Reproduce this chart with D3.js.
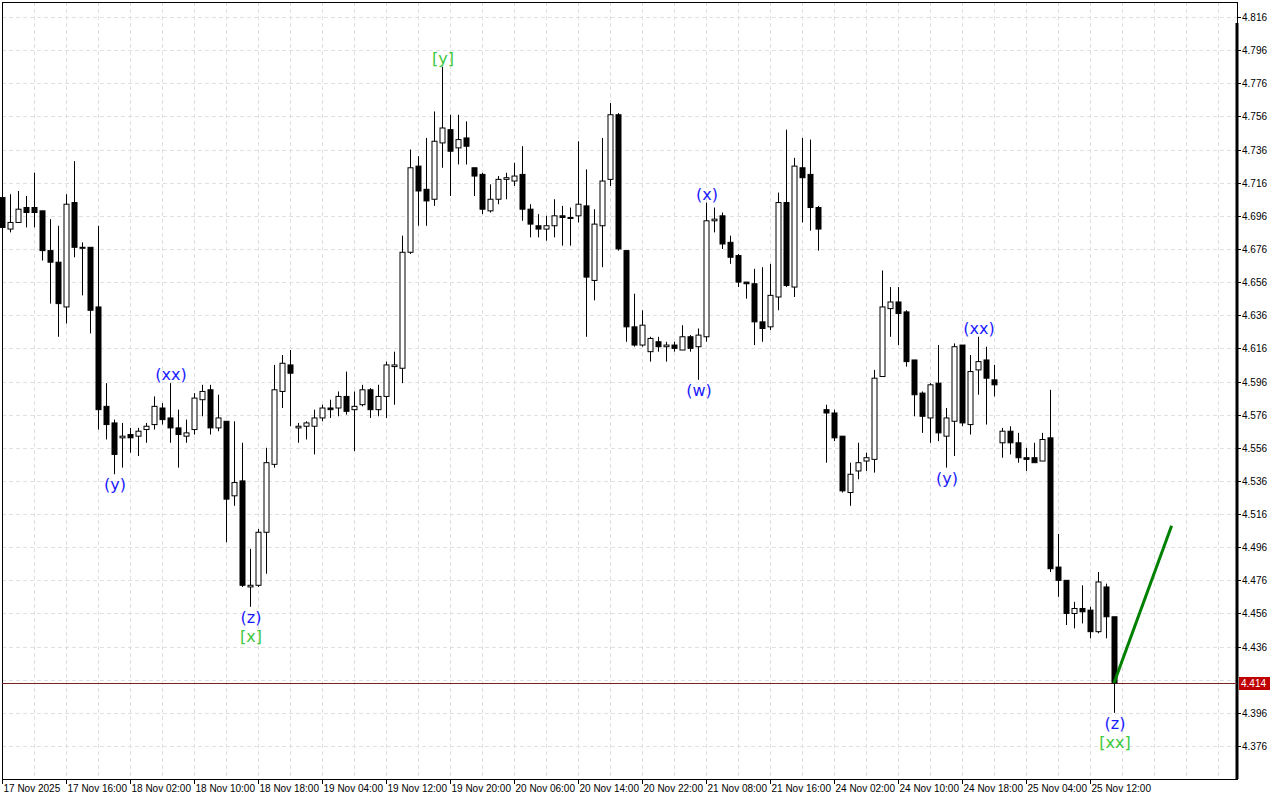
<!DOCTYPE html>
<html><head><meta charset="utf-8">
<script src="https://cdn.jsdelivr.net/npm/d3@7"></script>
<style>html,body{margin:0;padding:0;background:#fff}svg{display:block}</style>
</head><body><svg id="c" width="1280" height="800"></svg>
<script>
const opens  = [4.707,4.688,4.692,4.701,4.701,4.699,4.675,4.668,4.641,4.704,4.677,4.677,4.641,4.581,4.571,4.562,4.564,4.563,4.567,4.570,4.580,4.574,4.568,4.563,4.567,4.585,4.591,4.568,4.572,4.527,4.536,4.472,4.473,4.505,4.546,4.590,4.606,4.568,4.569,4.569,4.574,4.580,4.580,4.587,4.579,4.582,4.591,4.579,4.587,4.605,4.604,4.674,4.726,4.712,4.706,4.740,4.748,4.737,4.743,4.725,4.721,4.699,4.706,4.718,4.717,4.721,4.700,4.690,4.688,4.690,4.696,4.695,4.696,4.702,4.657,4.690,4.718,4.757,4.675,4.629,4.618,4.614,4.620,4.617,4.618,4.615,4.623,4.617,4.623,4.693,4.696,4.680,4.672,4.656,4.655,4.632,4.629,4.647,4.704,4.653,4.725,4.721,4.701,4.579,4.577,4.563,4.529,4.542,4.548,4.549,4.599,4.640,4.644,4.638,4.609,4.589,4.574,4.595,4.563,4.572,4.618,4.570,4.603,4.609,4.597,4.559,4.566,4.559,4.550,4.550,4.548,4.562,4.484,4.476,4.456,4.459,4.458,4.445,4.472,4.454];
const highs  = [4.709,4.709,4.711,4.708,4.722,4.699,4.694,4.690,4.709,4.729,4.680,4.677,4.690,4.595,4.573,4.571,4.568,4.568,4.571,4.587,4.583,4.595,4.579,4.573,4.589,4.594,4.594,4.588,4.572,4.572,4.559,4.495,4.507,4.556,4.606,4.612,4.615,4.571,4.572,4.579,4.582,4.585,4.590,4.602,4.590,4.594,4.592,4.594,4.608,4.614,4.684,4.736,4.732,4.743,4.759,4.786,4.757,4.757,4.753,4.725,4.722,4.715,4.720,4.722,4.728,4.738,4.703,4.697,4.696,4.706,4.702,4.701,4.741,4.724,4.700,4.743,4.764,4.758,4.675,4.649,4.639,4.623,4.623,4.620,4.620,4.630,4.624,4.628,4.704,4.701,4.698,4.684,4.673,4.656,4.664,4.665,4.667,4.710,4.748,4.731,4.743,4.742,4.702,4.582,4.579,4.563,4.547,4.559,4.553,4.603,4.663,4.653,4.653,4.639,4.609,4.590,4.595,4.618,4.580,4.619,4.618,4.612,4.623,4.617,4.606,4.568,4.569,4.565,4.556,4.559,4.565,4.591,4.504,4.476,4.463,4.473,4.460,4.481,4.474,4.454];
const lows   = [4.689,4.686,4.692,4.689,4.689,4.669,4.643,4.623,4.631,4.671,4.648,4.625,4.567,4.561,4.540,4.544,4.553,4.551,4.559,4.567,4.570,4.559,4.544,4.559,4.564,4.575,4.564,4.566,4.499,4.521,4.472,4.460,4.472,4.480,4.544,4.580,4.569,4.559,4.561,4.552,4.572,4.574,4.575,4.576,4.554,4.581,4.574,4.575,4.574,4.582,4.595,4.673,4.690,4.690,4.702,4.725,4.708,4.727,4.727,4.708,4.697,4.698,4.703,4.706,4.714,4.693,4.683,4.683,4.681,4.683,4.678,4.678,4.692,4.623,4.645,4.665,4.714,4.675,4.620,4.617,4.617,4.608,4.614,4.608,4.614,4.615,4.614,4.597,4.620,4.686,4.676,4.667,4.653,4.646,4.618,4.620,4.627,4.639,4.653,4.647,4.692,4.687,4.675,4.547,4.560,4.529,4.521,4.537,4.542,4.541,4.599,4.623,4.618,4.605,4.575,4.565,4.559,4.560,4.544,4.551,4.569,4.564,4.588,4.570,4.587,4.550,4.552,4.547,4.542,4.547,4.548,4.481,4.466,4.449,4.447,4.450,4.441,4.444,4.441,4.396];
const closes = [4.689,4.692,4.700,4.698,4.698,4.675,4.668,4.643,4.703,4.677,4.677,4.639,4.579,4.570,4.552,4.563,4.562,4.566,4.569,4.581,4.573,4.568,4.564,4.565,4.586,4.590,4.568,4.574,4.525,4.535,4.473,4.473,4.505,4.547,4.591,4.607,4.601,4.569,4.571,4.574,4.580,4.579,4.587,4.578,4.581,4.591,4.579,4.587,4.606,4.606,4.674,4.725,4.711,4.705,4.741,4.749,4.735,4.742,4.738,4.720,4.700,4.706,4.718,4.719,4.720,4.700,4.691,4.688,4.690,4.696,4.695,4.695,4.703,4.659,4.691,4.717,4.757,4.676,4.629,4.618,4.630,4.622,4.617,4.618,4.616,4.623,4.616,4.624,4.693,4.694,4.679,4.671,4.656,4.655,4.632,4.628,4.648,4.704,4.654,4.726,4.719,4.701,4.688,4.577,4.562,4.530,4.540,4.547,4.550,4.598,4.641,4.644,4.637,4.608,4.588,4.575,4.594,4.565,4.574,4.617,4.571,4.602,4.608,4.598,4.594,4.566,4.559,4.550,4.549,4.547,4.561,4.483,4.476,4.456,4.459,4.457,4.445,4.475,4.454,4.414];
const yTicks = [4.816,4.796,4.776,4.756,4.736,4.716,4.696,4.676,4.656,4.636,4.616,4.596,4.576,4.556,4.536,4.516,4.496,4.476,4.456,4.436,4.396,4.376];
const xLabels = ["17 Nov 2025","17 Nov 16:00","18 Nov 02:00","18 Nov 10:00","18 Nov 18:00","19 Nov 04:00","19 Nov 12:00","19 Nov 20:00","20 Nov 06:00","20 Nov 14:00","20 Nov 22:00","21 Nov 08:00","21 Nov 16:00","24 Nov 02:00","24 Nov 10:00","24 Nov 18:00","25 Nov 04:00","25 Nov 12:00"];
const waveLabels = [
 {i:14, t:"(y)", pos:"below", c:"#1a1aff"},
 {i:21, t:"(xx)", pos:"above", c:"#1a1aff"},
 {i:31, t:"(z)", pos:"below", c:"#1a1aff"},
 {i:31, t:"[x]", pos:"below2", c:"#3cc83c"},
 {i:55, t:"[y]", pos:"above", c:"#3cc83c"},
 {i:87, t:"(w)", pos:"below", c:"#1a1aff"},
 {i:88, t:"(x)", pos:"above", c:"#1a1aff"},
 {i:118, t:"(y)", pos:"below", c:"#1a1aff"},
 {i:122, t:"(xx)", pos:"above", c:"#1a1aff"},
 {i:139, t:"(z)", pos:"below", c:"#1a1aff"},
 {i:139, t:"[xx]", pos:"below2", c:"#3cc83c"}
];
const forecast = [{i:139, v:4.414},{i:146.2, v:4.509}];
const lastPrice = 4.414;

const svg = d3.select("#c");
const L=2, T=2, R=1237, B=779;
const x = d3.scaleLinear().domain([0,139]).range([2,1114]);
const y = d3.scaleLinear().domain([4.376,4.816]).range([746,17]);

const g = svg.append("g");
for (let k=1; 2+32*k < R; k++) {
  g.append("line").attr("x1",2.5+32*k).attr("x2",2.5+32*k).attr("y1",T).attr("y2",B)
   .attr("stroke","#e0e0e0").attr("stroke-dasharray","4,3");
}
yTicks.concat([4.416]).forEach(v=>{
  g.append("line").attr("x1",L).attr("x2",R).attr("y1",Math.round(y(v))+0.5).attr("y2",Math.round(y(v))+0.5)
   .attr("stroke","#e0e0e0").attr("stroke-dasharray","4,3");
});

svg.append("rect").attr("x",L+0.5).attr("y",T+0.5).attr("width",R-L).attr("height",B-T)
  .attr("fill","none").attr("stroke","#000");
svg.append("line").attr("x1",R).attr("x2",R).attr("y1",23).attr("y2",B).attr("stroke","#000").attr("stroke-width",3);

svg.append("line").attr("x1",L).attr("x2",R).attr("y1",Math.round(y(lastPrice))+0.5).attr("y2",Math.round(y(lastPrice))+0.5)
  .attr("stroke","#7a2020").attr("stroke-width",1);

const data = opens.map((o,i)=>({i,o,h:highs[i],l:lows[i],c:closes[i]}));
const cg = svg.append("g");
data.forEach(d=>{
  const cx = Math.round(x(d.i))+0.5;
  cg.append("line").attr("x1",cx).attr("x2",cx).attr("y1",y(d.h)).attr("y2",y(d.l)).attr("stroke","#000");
  const top = y(Math.max(d.o,d.c)), bot = y(Math.min(d.o,d.c));
  const up = d.c >= d.o;
  cg.append("rect").attr("x",cx-2.5).attr("y",top).attr("width",5).attr("height",Math.max(1,bot-top))
    .attr("fill",up?"#fff":"#000").attr("stroke","#000").attr("stroke-width",1);
});

svg.append("path").attr("d",d3.line().x(d=>x(d.i)).y(d=>y(d.v))(forecast))
  .attr("stroke","#008000").attr("stroke-width",3).attr("fill","none");

waveLabels.forEach(w=>{
  const d = data[w.i];
  let yy;
  if (w.pos==="above") yy = y(d.h)-3;
  else if (w.pos==="below") yy = y(d.l)+16;
  else yy = y(d.l)+35;
  svg.append("text").attr("x",x(w.i)+1).attr("y",yy).attr("text-anchor","middle")
    .attr("font-family","DejaVu Sans, sans-serif").attr("font-size",16).attr("fill",w.c).text(w.t);
});

const ya = svg.append("g").attr("font-family","Liberation Sans, Arial, sans-serif").attr("font-size",10);
yTicks.forEach(v=>{
  const yy = Math.round(y(v))+0.5;
  ya.append("line").attr("x1",R).attr("x2",R+4).attr("y1",yy).attr("y2",yy).attr("stroke","#000");
  ya.append("text").attr("x",R+5).attr("y",yy+3.5).text(v.toFixed(3));
});
const ly = Math.round(y(lastPrice));
svg.append("rect").attr("x",R+2).attr("y",ly-6).attr("width",31).attr("height",13).attr("fill","#c00000");
svg.append("text").attr("x",R+4).attr("y",ly+4).attr("fill","#fff").attr("font-family","Liberation Sans, Arial, sans-serif").attr("font-size",10).text(lastPrice.toFixed(3));

const xa = svg.append("g").attr("font-family","Liberation Sans, Arial, sans-serif").attr("font-size",10);
xLabels.forEach((t,k)=>{
  const xx = Math.round(x(8*k))+0.5;
  xa.append("line").attr("x1",xx).attr("x2",xx).attr("y1",B).attr("y2",B+5).attr("stroke","#000");
  xa.append("text").attr("x",xx+1).attr("y",B+13).text(t);
});
</script></body></html>
